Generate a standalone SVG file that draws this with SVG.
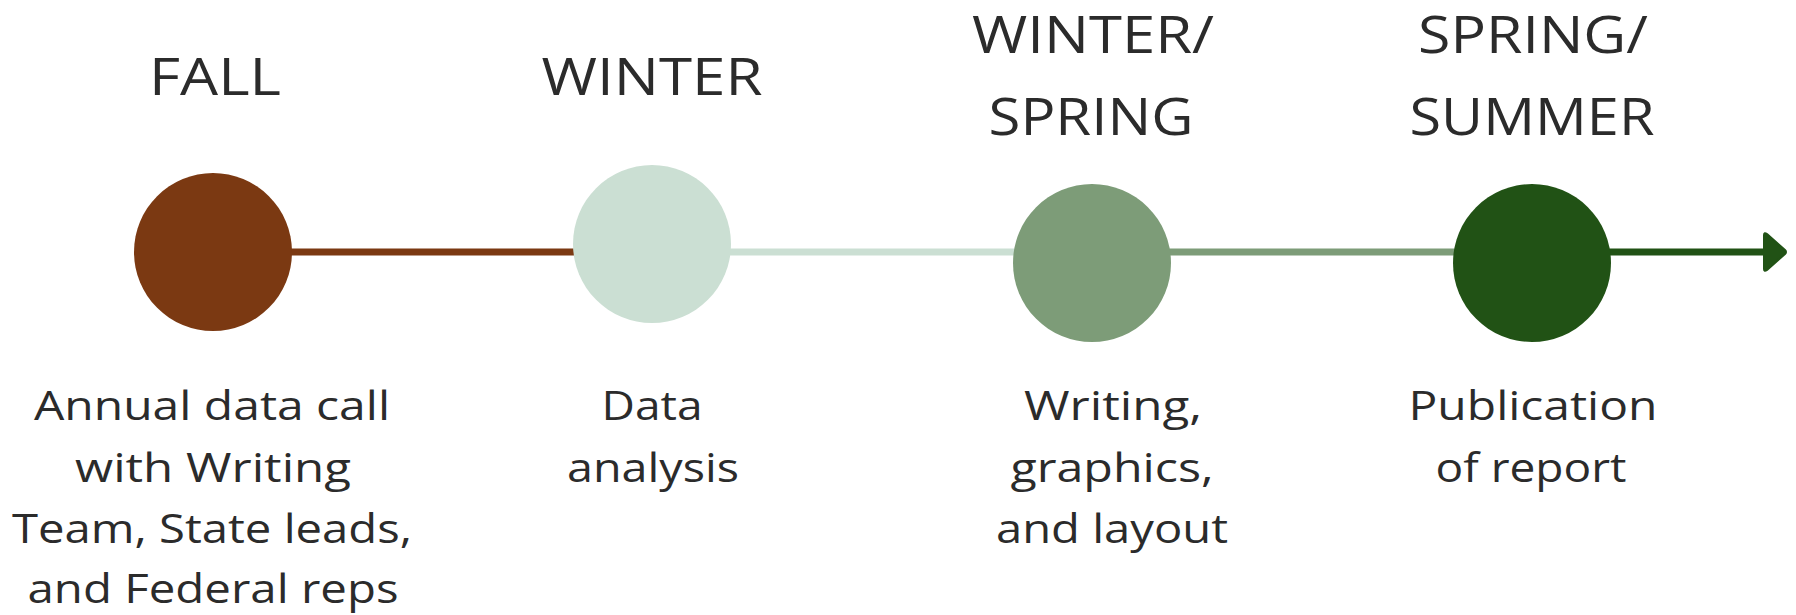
<svg xmlns="http://www.w3.org/2000/svg" width="1796" height="615" viewBox="0 0 1796 615">
<style>
.title{font-family:"Open Sans","Liberation Sans",sans-serif;font-size:52px;fill:#2b2b2b;text-anchor:middle}
.desc{font-family:"Open Sans","Liberation Sans",sans-serif;font-size:40px;fill:#2b2b2b;text-anchor:middle}
.ln{stroke-width:7;fill:none}
</style>
<rect width="1796" height="615" fill="#ffffff"/>
<g id="connectors">
<line class="ln" x1="213" y1="252" x2="652" y2="252" stroke="#7b3912"/>
<line class="ln" x1="652" y1="252" x2="1092" y2="252" stroke="#cbdfd3"/>
<line class="ln" x1="1092" y1="252" x2="1532" y2="252" stroke="#7d9c78"/>
<line class="ln" x1="1532" y1="252" x2="1768" y2="252" stroke="#215215"/>
<path d="M1764 235 Q1764 232 1767 234 L1785 250 Q1787 252 1785 254 L1767 270 Q1764 272 1764 269 Z" fill="#215215" stroke="#215215" stroke-width="2" stroke-linejoin="round"/>
</g>
<g id="fall">
<circle cx="213" cy="252" r="79" fill="#7b3912"/>
<text class="title" x="215" y="95" textLength="132" lengthAdjust="spacingAndGlyphs">FALL</text>
<text class="desc" x="212" y="420" textLength="356" lengthAdjust="spacingAndGlyphs">Annual data call</text>
<text class="desc" x="213" y="482" textLength="276" lengthAdjust="spacingAndGlyphs">with Writing</text>
<text class="desc" x="212" y="543" textLength="400" lengthAdjust="spacingAndGlyphs">Team, State leads,</text>
<text class="desc" x="213" y="603" textLength="371" lengthAdjust="spacingAndGlyphs">and Federal reps</text>
</g>
<g id="winter">
<circle cx="652" cy="244" r="79" fill="#cbdfd3"/>
<text class="title" x="652" y="95" textLength="221" lengthAdjust="spacingAndGlyphs">WINTER</text>
<text class="desc" x="652" y="420" textLength="101" lengthAdjust="spacingAndGlyphs">Data</text>
<text class="desc" x="653" y="482" textLength="172" lengthAdjust="spacingAndGlyphs">analysis</text>
</g>
<g id="winter-spring">
<circle cx="1092" cy="263" r="79" fill="#7d9c78"/>
<text class="title" x="1093" y="53" textLength="242" lengthAdjust="spacingAndGlyphs">WINTER/</text>
<text class="title" x="1091" y="135" textLength="205" lengthAdjust="spacingAndGlyphs">SPRING</text>
<text class="desc" x="1113" y="420" textLength="178" lengthAdjust="spacingAndGlyphs">Writing,</text>
<text class="desc" x="1112" y="482" textLength="203" lengthAdjust="spacingAndGlyphs">graphics,</text>
<text class="desc" x="1112" y="543" textLength="232" lengthAdjust="spacingAndGlyphs">and layout</text>
</g>
<g id="spring-summer">
<circle cx="1532" cy="263" r="79" fill="#215215"/>
<text class="title" x="1533" y="53" textLength="230" lengthAdjust="spacingAndGlyphs">SPRING/</text>
<text class="title" x="1532" y="135" textLength="245" lengthAdjust="spacingAndGlyphs">SUMMER</text>
<text class="desc" x="1533" y="420" textLength="249" lengthAdjust="spacingAndGlyphs">Publication</text>
<text class="desc" x="1531" y="482" textLength="191" lengthAdjust="spacingAndGlyphs">of report</text>
</g>
</svg>
